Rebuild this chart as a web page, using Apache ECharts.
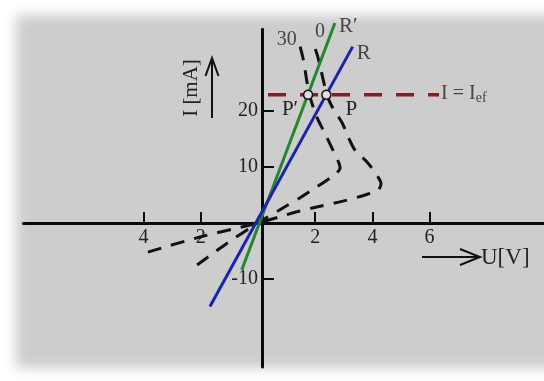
<!DOCTYPE html>
<html>
<head>
<meta charset="utf-8">
<script src="https://cdn.jsdelivr.net/npm/echarts@6/dist/echarts.min.js"></script>
<style>
  html, body { margin: 0; padding: 0; background: #ffffff; }
  #chart { width: 544px; height: 381px; }
</style>
</head>
<body>
<div id="chart"></div>
<script>
// Thermistor I–U characteristics at two temperatures, with two load lines
// and the working current I = I_ef.

// Axis ticks
const uTicks = [-4, -2, 2, 4, 6];
const iTicks = [-10, 10, 20];

// Characteristic at 30 (voltage in V, current in mA), traced from the origin outwards
const curve30U = [-2.13, -1.08, 0, 0.94, 1.47, 2.10, 2.62, 2.87, 2.83, 2.62, 2.31, 2.06, 1.80, 1.57, 1.43];
const curve30I = [-7.5, -3.6, 0, 2.9, 4.5, 6.6, 8.4, 9.8, 10.7, 13.0, 16.3, 18.9, 22.9, 29.5, 32.3];

// Characteristic at 0
const curve0U = [-3.85, -2.03, 0, 1.36, 2.17, 2.97, 3.74, 4.20, 4.30, 4.20, 3.81, 3.39, 3.15, 2.94, 2.62, 2.41, 2.10, 1.92];
const curve0I = [-5.2, -2.5, 0, 2.0, 3.0, 3.9, 5.0, 5.9, 7.0, 8.2, 10.9, 13.0, 15.4, 17.9, 20.5, 22.9, 29.5, 32.3];

// Load lines R' and R (end points)
const lineRpU = [-0.57, 2.69];
const lineRpI = [-8.4, 35.7];
const lineRU = [-1.68, 3.31];
const lineRI = [-14.9, 31.5];

// Working current level I = I_ef
const iefU = [0.35, 6.33];
const iefI = [22.9, 22.9];

// Operating points P' and P
const pointU = [1.75, 2.39];
const pointI = [22.9, 22.9];
const pointNames = ['P\u2032', 'P'];

const serif = 'Liberation Serif';
const ink = '#222222';

const zip = (a, b) => a.map((v, k) => [v, b[k]]);
const last = (a) => a[a.length - 1];

const chart = echarts.init(document.getElementById('chart'), null, { renderer: 'canvas' });

// plot area: U from -8.2 to 10 V, I from -25.7 to 34.6 mA
const gridLeft = 23.5;
const gridTop = 29.24;
const gridBottom = 14.08;
const uMin = -8.2, uMax = 10;
const iMin = -25.7, iMax = 34.6;
const plotH = 381 - gridTop - gridBottom;
const zeroY = gridTop + plotH * iMax / (iMax - iMin);   // pixel row of I = 0

chart.setOption({
  animation: false,
  backgroundColor: '#ffffff',
  textStyle: { fontFamily: serif },
  grid: {
    left: gridLeft, right: 0, top: gridTop, bottom: gridBottom,
    containLabel: false, outerBoundsMode: 'none'
  },
  graphic: [
    // soft-edged grey panel: only the blurred shadow of an off-canvas rectangle is visible
    {
      type: 'rect', z: -100, silent: true,
      shape: { x: 16 - 3000, y: 15, width: 600, height: 353 },
      style: { fill: '#cdcdcd', shadowBlur: 12, shadowColor: '#cdcdcd', shadowOffsetX: 3000 }
    },
    // current axis caption with arrow
    {
      type: 'text', silent: true, z: 10,
      x: 191, y: 88, rotation: Math.PI / 2,
      style: { text: 'I [mA]', font: '21px "Liberation Serif"', fill: ink, align: 'center', verticalAlign: 'middle' }
    },
    {
      type: 'line', silent: true, z: 10,
      shape: { x1: 212, y1: 118, x2: 212, y2: 59 },
      style: { stroke: '#111', lineWidth: 2 }
    },
    {
      type: 'polyline', silent: true, z: 10,
      shape: { points: [[205.5, 76], [212, 58], [218.5, 76]] },
      style: { stroke: '#111', lineWidth: 2, fill: null }
    },
    // voltage axis caption with arrow
    {
      type: 'line', silent: true, z: 10,
      shape: { x1: 422, y1: 257, x2: 479, y2: 257 },
      style: { stroke: '#111', lineWidth: 2 }
    },
    {
      type: 'polyline', silent: true, z: 10,
      shape: { points: [[460, 249], [480, 257], [460, 265]] },
      style: { stroke: '#111', lineWidth: 2, fill: null }
    },
    {
      type: 'text', silent: true, z: 10,
      x: 481, y: 258,
      style: { text: 'U[V]', font: '23px "Liberation Serif"', fill: ink, align: 'left', verticalAlign: 'middle' }
    }
  ],
  xAxis: {
    type: 'value', min: uMin, max: uMax,
    position: 'bottom', offset: -(381 - gridBottom - zeroY),
    axisLine: { show: true, onZero: false, lineStyle: { color: '#0a0a0a', width: 3 } },
    axisTick: { show: true, inside: true, length: 11, customValues: uTicks, lineStyle: { color: '#0a0a0a', width: 2 } },
    axisLabel: {
      show: true, customValues: uTicks, margin: 5,
      formatter: (v) => String(Math.abs(v)),
      fontFamily: serif, fontSize: 20, color: ink
    },
    splitLine: { show: false }
  },
  yAxis: {
    type: 'value', min: iMin, max: iMax,
    position: 'left', offset: -(262 - gridLeft),
    axisLine: { show: true, onZero: false, lineStyle: { color: '#0a0a0a', width: 3 } },
    axisTick: { show: true, inside: true, length: 12, customValues: iTicks, lineStyle: { color: '#0a0a0a', width: 2 } },
    axisLabel: {
      show: true, customValues: iTicks, margin: 4,
      fontFamily: serif, fontSize: 20, color: ink
    },
    splitLine: { show: false }
  },
  series: [
    {
      name: '30', type: 'line', data: zip(curve30U, curve30I),
      showSymbol: false, smooth: 0.3, clip: false, z: 2,
      lineStyle: { color: '#111111', width: 3, type: [14, 10] }
    },
    {
      name: '0', type: 'line', data: zip(curve0U, curve0I),
      showSymbol: false, smooth: 0.3, clip: false, z: 2,
      lineStyle: { color: '#111111', width: 3, type: [14, 10] }
    },
    {
      name: 'I = Ief', type: 'line', data: zip(iefU, iefI),
      showSymbol: false, clip: false, z: 3,
      lineStyle: { color: '#8e1b1b', width: 3.5, type: [18, 14] }
    },
    {
      name: "R'", type: 'line', data: zip(lineRpU, lineRpI),
      showSymbol: false, clip: false, z: 4,
      lineStyle: { color: '#1f8a2a', width: 3 }
    },
    {
      name: 'R', type: 'line', data: zip(lineRU, lineRI),
      showSymbol: false, clip: false, z: 4,
      lineStyle: { color: '#1a22b0', width: 3 }
    },
    {
      name: 'operating points', type: 'scatter', z: 6, clip: false,
      data: pointU.map((u, k) => ({
        value: [u, pointI[k]],
        label: {
          show: true, formatter: pointNames[k], position: 'inside',
          offset: k === 0 ? [-18, 15] : [25, 15]
        }
      })),
      symbol: 'circle', symbolSize: 9,
      itemStyle: { color: '#dedede', borderColor: '#111111', borderWidth: 1.5, opacity: 1 },
      label: { fontFamily: serif, fontSize: 21, color: ink }
    },
    {
      // captions anchored at the ends of the curves and lines
      name: 'captions', type: 'scatter', z: 7, silent: true, clip: false,
      symbol: 'circle', symbolSize: 0.1,
      itemStyle: { color: 'rgba(0,0,0,0)' },
      label: { show: true, fontFamily: serif, color: ink },
      data: [
        { value: [last(curve30U), last(curve30I)], label: { formatter: '30', position: 'left', distance: 2, offset: [0, -2], fontSize: 20 } },
        { value: [last(curve0U), last(curve0I)], label: { formatter: '0', position: 'top', distance: 2, offset: [7, 2], fontSize: 20 } },
        { value: [last(lineRpU), last(lineRpI)], label: { formatter: 'R\u2032', position: 'right', distance: 4, offset: [0, 3], fontSize: 21 } },
        { value: [last(lineRU), last(lineRI)], label: { formatter: 'R', position: 'right', distance: 4, offset: [0, 7], fontSize: 21 } },
        {
          value: [last(iefU), last(iefI)],
          label: {
            formatter: '{a|I = I}{b|ef}', position: 'right', distance: 2, offset: [0, -1],
            rich: {
              a: { fontFamily: serif, fontSize: 20, color: ink, lineHeight: 24 },
              b: { fontFamily: serif, fontSize: 14, color: ink, lineHeight: 16, verticalAlign: 'bottom' }
            }
          }
        }
      ]
    }
  ]
});
</script>
</body>
</html>
